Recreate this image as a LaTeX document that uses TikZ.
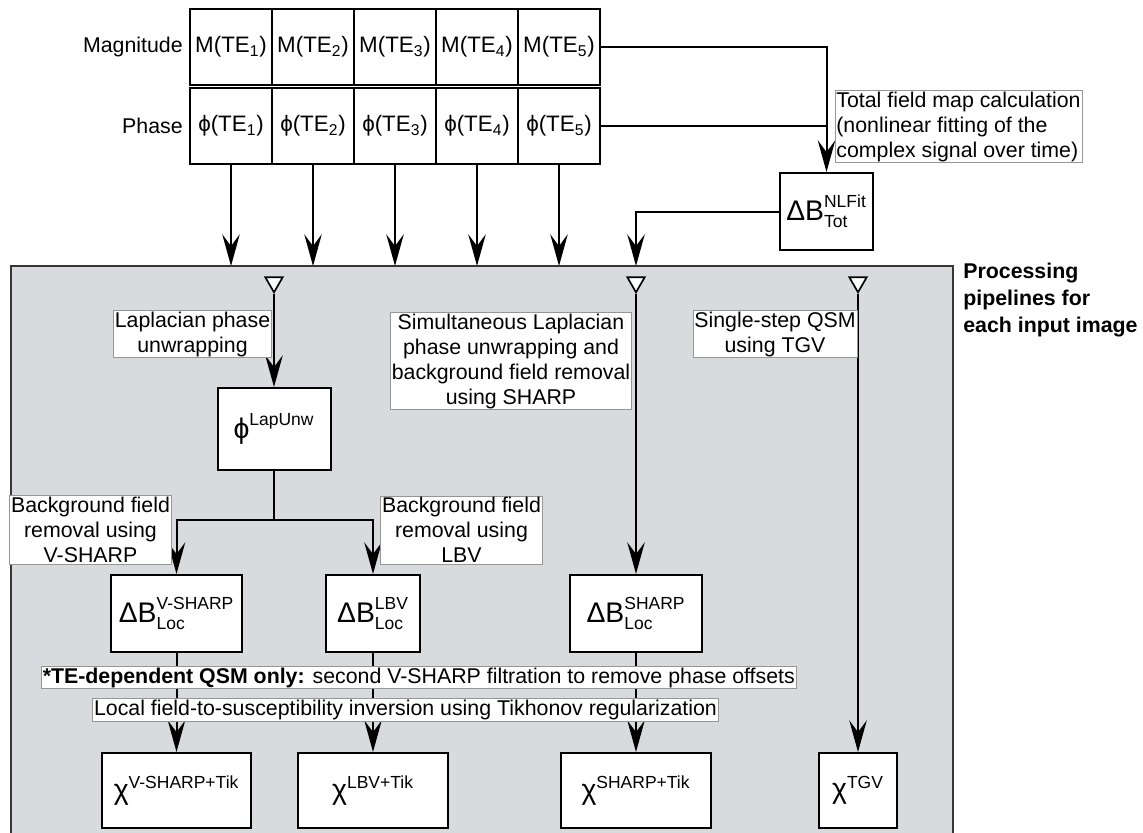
\documentclass[tikz,border=0pt]{standalone}
\usepackage{fontspec}
\setmainfont{Liberation Sans}
\usepackage{amsmath}
\usetikzlibrary{arrows.meta,shapes.geometric}

\definecolor{pipegray}{RGB}{217,218,221}
\definecolor{edgegray}{RGB}{55,55,55}
\definecolor{labgray}{RGB}{150,150,150}

\DeclareMathSizes{17}{17}{10.5}{8}
\DeclareMathSizes{13.4}{13.4}{9.4}{7}

% field map symbols with super- and subscript
\newcommand{\fieldsym}[3]{$\text{#1}^{\text{#2}}_{\text{#3}}$}
\newcommand{\chisym}[1]{$\text{χ}^{\text{#1}}$}

\begin{document}
\begin{tikzpicture}[x=0.6pt, y=-0.6pt,
  every node/.style={font=\fontsize{12.8}{15}\selectfont},
  cell/.style={draw, line width=1.2pt, minimum width=49.2pt, minimum height=45.6pt, inner sep=0pt, font=\fontsize{13.4}{15}\selectfont},
  qbox/.style={draw, line width=1.2pt, fill=white, inner sep=0pt, font=\fontsize{17}{20}\selectfont},
  lab/.style={draw=labgray, line width=0.5pt, fill=white, inner sep=0.8pt, align=center},
  tri/.style={draw, fill=white, line width=1pt, regular polygon, regular polygon sides=3, shape border rotate=180, minimum size=12pt, inner sep=0pt},
  conn/.style={line width=1.2pt},
  arr/.style={line width=1.2pt, -{Stealth[length=19pt, width=10.5pt, inset=7pt]}}]
\clip (0,0) rectangle (1143,832);

% processing area
\draw[fill=pipegray, draw=edgegray, line width=1.3pt] (10.7,266) rectangle (952.7,845);
\coordinate (pipetop) at (0,266);
\node[anchor=west, inner sep=0pt, align=left, font=\bfseries\fontsize{12.8}{16.2}\selectfont] (proc) at (963,300) {Processing\\pipelines for\\each input image};

% input images
\node[anchor=east, inner sep=0pt] (maglab) at (183,47) {Magnitude};
\node[anchor=east, inner sep=0pt] (phlab) at (183,126) {Phase};
\foreach \i in {1,...,5} {
  \node[cell] (m\i) at (149+82*\i, 47) {M(TE$_{\text{\i}}$)};
  \node[cell] (p\i) at (149+82*\i, 126) {ϕ(TE$_{\text{\i}}$)};
}

% result boxes
\node[qbox, minimum width=55.8pt, minimum height=46.2pt] (nlfit) at (826.5,211.5) {\fieldsym{ΔB}{NLFit}{Tot}};
\node[qbox, minimum width=67.8pt, minimum height=49.2pt] (lap) at (274,429) {$\text{ϕ}^{\text{LapUnw}}$};
\node[qbox, minimum width=78.6pt, minimum height=46.2pt] (vs) at (176.5,613.5) {\fieldsym{ΔB}{V-SHARP}{Loc}};
\node[qbox, minimum width=56.4pt, minimum height=46.2pt] (lbv) at (373,613.5) {\fieldsym{ΔB}{LBV}{Loc}};
\node[qbox, minimum width=79.2pt, minimum height=46.2pt] (sharp) at (636,613.5) {\fieldsym{ΔB}{SHARP}{Loc}};
\node[qbox, minimum width=89.4pt, minimum height=45pt] (chivs) at (176.5,790.5) {\chisym{V-SHARP+Tik}};
\node[qbox, minimum width=90pt, minimum height=45pt] (chilbv) at (373,790.5) {\chisym{LBV+Tik}};
\node[qbox, minimum width=90pt, minimum height=45pt] (chisharp) at (636,790.5) {\chisym{SHARP+Tik}};
\node[qbox, minimum width=46.8pt, minimum height=45pt] (chitgv) at (858,790.5) {\chisym{TGV}};

% pipeline entries
\node[tri] (t1) at (274,282.3) {};
\node[tri] (t2) at (636,282.3) {};
\node[tri] (t3) at (858,282.3) {};
\coordinate (split) at (274,520);

% connectors
\draw[arr] (m5.east) -| (nlfit.north);
\draw[conn] (p5.east) -- (p5.east -| nlfit.north);
\draw[arr] (nlfit.west) -| (t2 |- pipetop);
\foreach \i in {1,...,5}
  \draw[arr] (p\i.south) -- (p\i.south |- pipetop);
\draw[arr] (t1) -- (lap);
\draw[conn] (lap) -- (split);
\draw[arr] (split) -| (vs.north);
\draw[arr] (split) -| (lbv.north);
\draw[arr] (vs) -- (chivs);
\draw[arr] (lbv) -- (chilbv);
\draw[arr] (t2) -- (sharp);
\draw[arr] (sharp) -- (chisharp);
\draw[arr] (t3) -- (chitgv);

% step labels
\node[lab, align=left] (totlab) at (958.5,126.5) {Total field map calculation\\(nonlinear fitting of the\\complex signal over time)};
\node[lab] (laplab) at (192.5,334) {Laplacian phase\\unwrapping};
\node[lab] (simlab) at (511,361) {Simultaneous Laplacian\\phase unwrapping and\\background field removal\\using SHARP};
\node[lab] (tgvlab) at (775,334) {Single-step QSM\\using TGV};
\node[lab] (vslab) at (90.5,530) {Background field\\removal using\\V-SHARP};
\node[lab] (lbvlab) at (461.5,530) {Background field\\removal using\\LBV};
\node[lab] (telab) at (418.8,677.5) {\textbf{*TE-dependent QSM only:} second V-SHARP filtration to remove phase offsets};
\node[lab] (loclab) at (405.5,710) {Local field-to-susceptibility inversion using Tikhonov regularization};
\end{tikzpicture}
\end{document}
